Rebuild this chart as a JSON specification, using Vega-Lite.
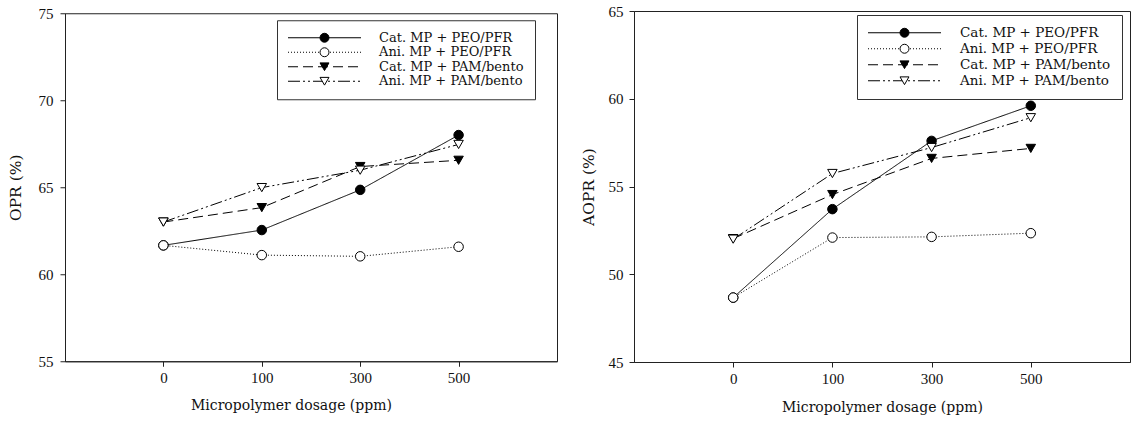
{
  "$schema": "https://vega.github.io/schema/vega-lite/v6.json",
  "padding": {"left": 7, "top": 3, "right": 0, "bottom": 0},
  "background": "white",
  "center": true,
  "config": {
    "view": {"stroke": "#222", "strokeWidth": 1},
    "axis": {"domainColor": "#222", "tickColor": "#222", "labelColor": "#111", "titleColor": "#111", "grid": false, "labelFont": "Liberation Serif", "labelFontSize": 15, "titleFont": "DejaVu Serif", "titleFontSize": 14, "titleFontWeight": "normal", "tickSize": 5},
    "concat": {"spacing": 22}
  },
  "data": {"values": [
    {"panel": "OPR", "series": "Cat. MP + PEO/PFR", "dosage": 0, "value": 61.66},
    {"panel": "OPR", "series": "Cat. MP + PEO/PFR", "dosage": 100, "value": 62.54},
    {"panel": "OPR", "series": "Cat. MP + PEO/PFR", "dosage": 300, "value": 64.85},
    {"panel": "OPR", "series": "Cat. MP + PEO/PFR", "dosage": 500, "value": 68.0},
    {"panel": "OPR", "series": "Ani. MP + PEO/PFR", "dosage": 0, "value": 61.66},
    {"panel": "OPR", "series": "Ani. MP + PEO/PFR", "dosage": 100, "value": 61.1},
    {"panel": "OPR", "series": "Ani. MP + PEO/PFR", "dosage": 300, "value": 61.03},
    {"panel": "OPR", "series": "Ani. MP + PEO/PFR", "dosage": 500, "value": 61.58},
    {"panel": "OPR", "series": "Cat. MP + PAM/bento", "dosage": 0, "value": 63.0},
    {"panel": "OPR", "series": "Cat. MP + PAM/bento", "dosage": 100, "value": 63.83},
    {"panel": "OPR", "series": "Cat. MP + PAM/bento", "dosage": 300, "value": 66.19},
    {"panel": "OPR", "series": "Cat. MP + PAM/bento", "dosage": 500, "value": 66.55},
    {"panel": "OPR", "series": "Ani. MP + PAM/bento", "dosage": 0, "value": 63.0},
    {"panel": "OPR", "series": "Ani. MP + PAM/bento", "dosage": 100, "value": 64.98},
    {"panel": "OPR", "series": "Ani. MP + PAM/bento", "dosage": 300, "value": 65.98},
    {"panel": "OPR", "series": "Ani. MP + PAM/bento", "dosage": 500, "value": 67.46},
    {"panel": "AOPR", "series": "Cat. MP + PEO/PFR", "dosage": 0, "value": 48.67},
    {"panel": "AOPR", "series": "Cat. MP + PEO/PFR", "dosage": 100, "value": 53.71},
    {"panel": "AOPR", "series": "Cat. MP + PEO/PFR", "dosage": 300, "value": 57.6},
    {"panel": "AOPR", "series": "Cat. MP + PEO/PFR", "dosage": 500, "value": 59.6},
    {"panel": "AOPR", "series": "Ani. MP + PEO/PFR", "dosage": 0, "value": 48.67},
    {"panel": "AOPR", "series": "Ani. MP + PEO/PFR", "dosage": 100, "value": 52.09},
    {"panel": "AOPR", "series": "Ani. MP + PEO/PFR", "dosage": 300, "value": 52.13},
    {"panel": "AOPR", "series": "Ani. MP + PEO/PFR", "dosage": 500, "value": 52.34},
    {"panel": "AOPR", "series": "Cat. MP + PAM/bento", "dosage": 0, "value": 52.03},
    {"panel": "AOPR", "series": "Cat. MP + PAM/bento", "dosage": 100, "value": 54.54},
    {"panel": "AOPR", "series": "Cat. MP + PAM/bento", "dosage": 300, "value": 56.6},
    {"panel": "AOPR", "series": "Cat. MP + PAM/bento", "dosage": 500, "value": 57.17},
    {"panel": "AOPR", "series": "Ani. MP + PAM/bento", "dosage": 0, "value": 52.0},
    {"panel": "AOPR", "series": "Ani. MP + PAM/bento", "dosage": 100, "value": 55.74},
    {"panel": "AOPR", "series": "Ani. MP + PAM/bento", "dosage": 300, "value": 57.22},
    {"panel": "AOPR", "series": "Ani. MP + PAM/bento", "dosage": 500, "value": 58.92}
  ]},
  "hconcat": [
    {
      "width": 492,
      "height": 348,
      "transform": [{"filter": "datum.panel == 'OPR'"}],
      "encoding": {
        "x": {"field": "dosage", "type": "ordinal", "scale": {"type": "point", "padding": 1}, "axis": {"title": "Micropolymer dosage (ppm)", "labelAngle": 0, "labelPadding": 4, "titlePadding": 13, "titleX": 226}},
        "y": {"field": "value", "type": "quantitative", "scale": {"domain": [55, 75], "nice": false, "zero": false}, "axis": {"title": "OPR (%)", "titleFontSize": 15.5, "values": [55, 60, 65, 70, 75], "labelPadding": 7, "titlePadding": 15}}
      },
      "layer": [
        {
          "mark": {"type": "line", "color": "#000", "strokeWidth": 1},
          "encoding": {
            "strokeDash": {"field": "series", "type": "nominal", "sort": ["Cat. MP + PEO/PFR", "Ani. MP + PEO/PFR", "Cat. MP + PAM/bento", "Ani. MP + PAM/bento"],
              "scale": {"range": [[1, 0], [1, 2], [10, 5], [12, 3, 2, 3, 2, 3]]},
              "legend": {"orient": "none", "legendX": 212, "legendY": 7, "title": null, "padding": 11, "strokeColor": "#333", "symbolType": "M-7.3,0H7.3", "symbolSize": 100, "symbolStrokeWidth": 1, "symbolStrokeColor": "#000", "symbolOffset": 30, "labelOffset": 48, "labelFont": "DejaVu Serif", "labelFontSize": 13, "labelColor": "#111", "rowPadding": 0.5, "labelLimit": 400, "zindex": 0}}
          }
        },
        {
          "mark": {"type": "point", "filled": true, "strokeWidth": 1, "size": 90, "opacity": 1},
          "encoding": {
            "shape": {"field": "series", "type": "nominal",
              "scale": {"domain": ["Cat. MP + PEO/PFR", "Ani. MP + PEO/PFR", "Cat. MP + PAM/bento", "Ani. MP + PAM/bento"], "range": ["circle", "circle", "triangle-down", "triangle-down"]},
              "legend": {"orient": "none", "legendX": 212, "legendY": 7, "title": null, "padding": 11, "symbolSize": 80, "symbolStrokeWidth": 1, "symbolOffset": 30, "labelOffset": 48, "labelFont": "DejaVu Serif", "labelFontSize": 13, "labelExpr": "''", "rowPadding": 0.5, "zindex": 2}},
            "fill": {"field": "series", "type": "nominal",
              "scale": {"domain": ["Cat. MP + PEO/PFR", "Ani. MP + PEO/PFR", "Cat. MP + PAM/bento", "Ani. MP + PAM/bento"], "range": ["#000", "#fff", "#000", "#fff"]},
              "legend": {"orient": "none", "legendX": 212, "legendY": 7, "title": null, "padding": 11, "symbolSize": 80, "symbolStrokeWidth": 1, "symbolOffset": 30, "labelOffset": 48, "labelFont": "DejaVu Serif", "labelFontSize": 13, "labelExpr": "''", "rowPadding": 0.5, "zindex": 2}},
            "stroke": {"field": "series", "type": "nominal",
              "scale": {"domain": ["Cat. MP + PEO/PFR", "Ani. MP + PEO/PFR", "Cat. MP + PAM/bento", "Ani. MP + PAM/bento"], "range": ["#000", "#000", "#000", "#000"]},
              "legend": {"orient": "none", "legendX": 212, "legendY": 7, "title": null, "padding": 11, "symbolSize": 80, "symbolStrokeWidth": 1, "symbolOffset": 30, "labelOffset": 48, "labelFont": "DejaVu Serif", "labelFontSize": 13, "labelExpr": "''", "rowPadding": 0.5, "zindex": 2}}
          }
        }
      ]
    },
    {
      "width": 496,
      "height": 351,
      "transform": [{"filter": "datum.panel == 'AOPR'"}],
      "encoding": {
        "x": {"field": "dosage", "type": "ordinal", "scale": {"type": "point", "padding": 1}, "axis": {"title": "Micropolymer dosage (ppm)", "labelAngle": 0, "labelPadding": 4, "titlePadding": 14.5}},
        "y": {"field": "value", "type": "quantitative", "scale": {"domain": [45, 65], "nice": false, "zero": false}, "axis": {"title": "AOPR (%)", "titleFontSize": 15.5, "values": [45, 50, 55, 60, 65], "labelPadding": 6, "titlePadding": 12}}
      },
      "layer": [
        {
          "mark": {"type": "line", "color": "#000", "strokeWidth": 1},
          "encoding": {
            "strokeDash": {"field": "series", "type": "nominal", "sort": ["Cat. MP + PEO/PFR", "Ani. MP + PEO/PFR", "Cat. MP + PAM/bento", "Ani. MP + PAM/bento"],
              "scale": {"range": [[1, 0], [1, 2], [10, 5], [12, 3, 2, 3, 2, 3]]},
              "legend": {"orient": "none", "legendX": 223, "legendY": 4, "title": null, "padding": 11, "strokeColor": "#333", "symbolType": "M-7.3,0H7.3", "symbolSize": 100, "symbolStrokeWidth": 1, "symbolStrokeColor": "#000", "symbolOffset": 29.75, "labelOffset": 48.75, "labelFont": "DejaVu Serif", "labelFontSize": 13.5, "labelColor": "#111", "rowPadding": 1, "labelLimit": 400, "zindex": 0}}
          }
        },
        {
          "mark": {"type": "point", "filled": true, "strokeWidth": 1, "size": 90, "opacity": 1},
          "encoding": {
            "shape": {"field": "series", "type": "nominal",
              "scale": {"domain": ["Cat. MP + PEO/PFR", "Ani. MP + PEO/PFR", "Cat. MP + PAM/bento", "Ani. MP + PAM/bento"], "range": ["circle", "circle", "triangle-down", "triangle-down"]},
              "legend": {"orient": "none", "legendX": 223, "legendY": 4, "title": null, "padding": 11, "symbolSize": 80, "symbolStrokeWidth": 1, "symbolOffset": 29.75, "labelOffset": 48.75, "labelFont": "DejaVu Serif", "labelFontSize": 13.5, "labelExpr": "''", "rowPadding": 1, "zindex": 2}},
            "fill": {"field": "series", "type": "nominal",
              "scale": {"domain": ["Cat. MP + PEO/PFR", "Ani. MP + PEO/PFR", "Cat. MP + PAM/bento", "Ani. MP + PAM/bento"], "range": ["#000", "#fff", "#000", "#fff"]},
              "legend": {"orient": "none", "legendX": 223, "legendY": 4, "title": null, "padding": 11, "symbolSize": 80, "symbolStrokeWidth": 1, "symbolOffset": 29.75, "labelOffset": 48.75, "labelFont": "DejaVu Serif", "labelFontSize": 13.5, "labelExpr": "''", "rowPadding": 1, "zindex": 2}},
            "stroke": {"field": "series", "type": "nominal",
              "scale": {"domain": ["Cat. MP + PEO/PFR", "Ani. MP + PEO/PFR", "Cat. MP + PAM/bento", "Ani. MP + PAM/bento"], "range": ["#000", "#000", "#000", "#000"]},
              "legend": {"orient": "none", "legendX": 223, "legendY": 4, "title": null, "padding": 11, "symbolSize": 80, "symbolStrokeWidth": 1, "symbolOffset": 29.75, "labelOffset": 48.75, "labelFont": "DejaVu Serif", "labelFontSize": 13.5, "labelExpr": "''", "rowPadding": 1, "zindex": 2}}
          }
        }
      ]
    }
  ],
  "resolve": {"scale": {"shape": "independent", "fill": "independent", "strokeDash": "independent", "stroke": "independent"}}
}
